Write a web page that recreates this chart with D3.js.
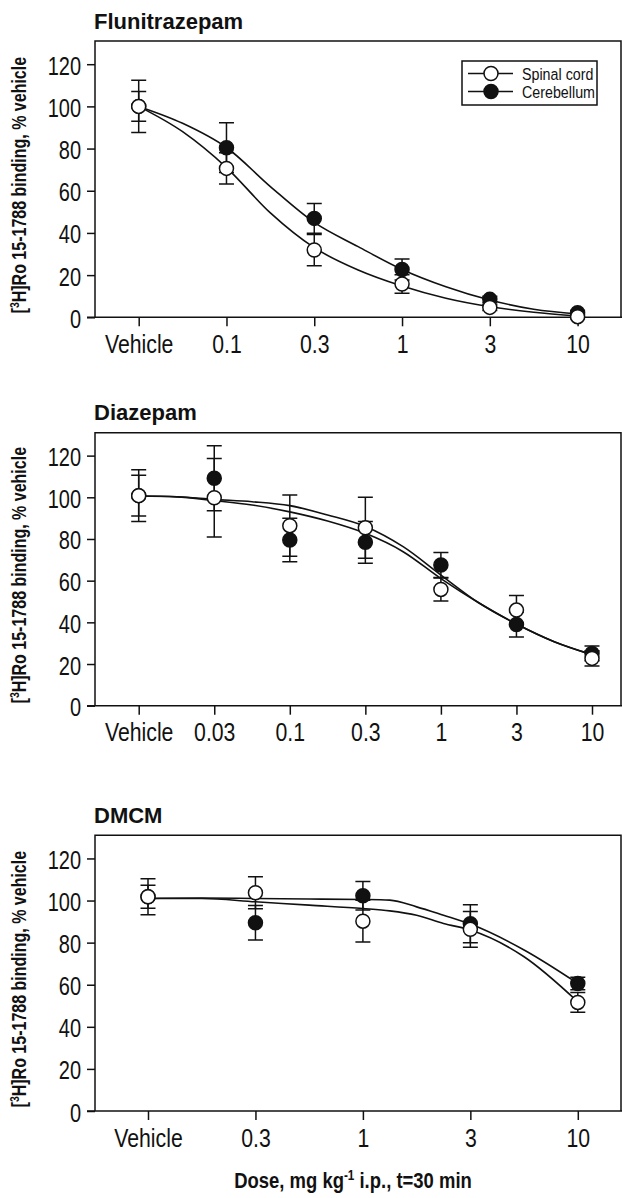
<!DOCTYPE html>
<html lang="en">
<head>
<meta charset="UTF-8">
<title>[3H]Ro 15-1788 binding</title>
<script src="https://d3js.org/d3.v7.min.js"></script>
<style>
  body { margin: 0; padding: 0; background: #fff; }
  svg { display: block; }
  .tick text { font-family: "Liberation Sans", Arial, sans-serif; font-size: 25px; fill: #111; }
  .tick line { stroke: #111; stroke-width: 1.5px; }
  .title { font-family: "Liberation Sans", Arial, sans-serif; font-weight: bold; font-size: 22px; fill: #111; }
  .ylab, .xlab { font-family: "Liberation Sans", Arial, sans-serif; font-weight: bold; fill: #111; }
  .legend text { font-family: "Liberation Sans", Arial, sans-serif; font-size: 17px; fill: #111; }
</style>
</head>
<body>
<div id="chart"></div>
<script>
// ---- data ----
const flunCats = ["Vehicle", "0.1", "0.3", "1", "3", "10"];
const flunSpinal = [100, 70.6, 31.9, 15.8, 4.7, 0.3];
const flunSpinalErr = [7, 7.4, 7.4, 4.4, 1.5, 1];
const flunCereb = [100, 80.4, 46.9, 22.7, 8.5, 2.2];
const flunCerebErr = [12.4, 11.8, 7, 5, 1.5, 1];
// fitted curves, [category index, value]
const flunSpinalFit = [[0, 100], [0.5, 88], [1, 71], [1.5, 49.5], [2, 33], [2.5, 22.4], [3, 14.8], [3.5, 9], [4, 5], [4.5, 2.4], [5, 0.6]];
const flunCerebFit = [[0, 100], [0.5, 92], [1, 80.5], [1.5, 62], [2, 45], [2.5, 33.5], [3, 22.7], [3.5, 14.5], [4, 8.2], [4.5, 3.8], [5, 1.6]];

const diazCats = ["Vehicle", "0.03", "0.1", "0.3", "1", "3", "10"];
const diazSpinal = [100.8, 99.8, 86.4, 85.4, 55.8, 45.9, 22.7];
const diazSpinalErr = [12.4, 18.8, 14.7, 14.6, 5.5, 7, 3.7];
const diazCereb = [100.8, 109.1, 79.5, 78.4, 67.5, 39, 25.1];
const diazCerebErr = [9.8, 15.6, 10.4, 10, 6, 6, 3.5];
const diazSpinalFit = [[0, 100.6], [0.5, 100.3], [1, 99], [1.5, 97.9], [2, 96], [2.5, 91.5], [3, 86], [3.5, 76.3], [4, 62.7], [4.5, 49.4], [5, 39.2], [5.5, 30.7], [6, 24.5]];
const diazCerebFit = [[0, 100.6], [0.5, 100.2], [1, 98.4], [1.5, 96.3], [2, 93], [2.5, 88.6], [3, 82.7], [3.5, 73.9], [4, 61], [4.5, 49.4], [5, 39.2], [5.5, 30.7], [6, 24.5]];

const dmcmCats = ["Vehicle", "0.3", "1", "3", "10"];
const dmcmSpinal = [101.8, 103.7, 90.2, 86.3, 51.6];
const dmcmSpinalErr = [8.5, 7.6, 9.9, 8.5, 4.7];
const dmcmCereb = [101.8, 89.4, 102.3, 89, 60.6];
const dmcmCerebErr = [5.5, 8.2, 6.8, 9, 3];
const dmcmSpinalFit = [[0, 101], [0.5, 101], [1, 99.4], [1.5, 97.8], [2, 96.2], [2.25, 95.1], [2.5, 93], [2.75, 89.1], [3, 86], [3.5, 73.3], [4, 51.9]];
const dmcmCerebFit = [[0, 101], [0.5, 101.2], [1, 101], [1.5, 100.7], [2, 100.5], [2.25, 100.2], [2.5, 97], [2.75, 93], [3, 88.8], [3.5, 76.5], [4, 60.6]];

const yTicks = [0, 20, 40, 60, 80, 100, 120];

// ---- layout ----
const W = 622, H = 1198;
const frameLeft = 95, frameRight = 621;
const narrow = 0.8; // squeeze text horizontally to mimic a condensed face
const panels = [
  { title: "Flunitrazepam", cats: flunCats, sp: flunSpinal, spE: flunSpinalErr, ce: flunCereb, ceE: flunCerebErr,
    spFit: flunSpinalFit, ceFit: flunCerebFit, top: 41, zero: 317.3, x0: 138.7, x1: 577.6, legend: true },
  { title: "Diazepam", cats: diazCats, sp: diazSpinal, spE: diazSpinalErr, ce: diazCereb, ceE: diazCerebErr,
    spFit: diazSpinalFit, ceFit: diazCerebFit, top: 432.7, zero: 705.7, x0: 138.7, x1: 592, legend: false },
  { title: "DMCM", cats: dmcmCats, sp: dmcmSpinal, spE: dmcmSpinalErr, ce: dmcmCereb, ceE: dmcmCerebErr,
    spFit: dmcmSpinalFit, ceFit: dmcmCerebFit, top: 835.3, zero: 1111, x0: 148, x1: 577.8, legend: false }
];

const ink = "#111";
const r = 7, cap = 7.5;

const svg = d3.select("#chart").append("svg")
  .attr("width", W).attr("height", H);

panels.forEach(p => {
  const g = svg.append("g");
  const x = d3.scaleLinear().domain([0, p.cats.length - 1]).range([p.x0, p.x1]);
  const y = d3.scaleLinear().domain([0, 131]).range([p.zero, p.top]);

  // frame (left, top, right)
  g.append("path")
    .attr("d", `M${frameLeft},${p.zero}V${p.top}H${frameRight}V${p.zero}`)
    .attr("fill", "none").attr("stroke", ink).attr("stroke-width", 1.5);

  // y axis
  const ya = g.append("g").attr("transform", `translate(${frameLeft},0)`)
    .call(d3.axisLeft(y).tickValues(yTicks).tickSize(8).tickPadding(6));
  ya.select(".domain").remove();
  ya.selectAll(".tick text")
    .attr("x", -14 / narrow).attr("dy", "0.4em")
    .attr("transform", `scale(${narrow},1)`);

  // x axis
  const xa = g.append("g").attr("transform", `translate(0,${p.zero})`)
    .call(d3.axisBottom(x).tickValues(d3.range(p.cats.length)).tickFormat(i => p.cats[i]).tickSize(9).tickPadding(9));
  xa.select(".domain").remove();
  xa.selectAll(".tick text").attr("transform", `scale(${narrow + 0.05},1)`);
  g.append("line")
    .attr("x1", 87).attr("x2", W).attr("y1", p.zero).attr("y2", p.zero)
    .attr("stroke", ink).attr("stroke-width", 1.5);

  // title
  g.append("text").attr("class", "title")
    .attr("x", frameLeft - 1).attr("y", p.top - 12.5).text(p.title);

  // y label
  const yl = g.append("text").attr("class", "ylab")
    .attr("transform", `translate(26,${(p.top + p.zero) / 2 + 6}) rotate(-90) scale(0.8,1)`)
    .attr("text-anchor", "middle").attr("font-size", 20);
  yl.append("tspan").text("[");
  yl.append("tspan").attr("font-size", 13).attr("dy", -7).text("3");
  yl.append("tspan").attr("dy", 7).text("H]Ro 15-1788 binding, % vehicle");

  // error bars
  const bars = [];
  p.sp.forEach((v, i) => bars.push({ i, v, e: p.spE[i] }));
  p.ce.forEach((v, i) => bars.push({ i, v, e: p.ceE[i] }));
  const eb = g.append("g").attr("stroke", ink).attr("stroke-width", 1.5).attr("fill", "none");
  eb.selectAll("path").data(bars).join("path")
    .attr("d", d => {
      const cx = x(d.i), yt = y(d.v + d.e), yb = y(d.v - d.e);
      return `M${cx},${yt}V${yb}M${cx - cap},${yt}H${cx + cap}M${cx - cap},${yb}H${cx + cap}`;
    });

  // fitted curves
  const line = d3.line().x(d => x(d[0])).y(d => y(d[1])).curve(d3.curveMonotoneX);
  [p.ceFit, p.spFit].forEach(f => {
    g.append("path").attr("d", line(f))
      .attr("fill", "none").attr("stroke", ink).attr("stroke-width", 1.6);
  });

  // markers: filled (cerebellum) under open (spinal cord)
  g.append("g").selectAll("circle").data(p.ce).join("circle")
    .attr("cx", (d, i) => x(i)).attr("cy", d => y(d)).attr("r", r)
    .attr("fill", ink).attr("stroke", ink).attr("stroke-width", 1.5);
  g.append("g").selectAll("circle").data(p.sp).join("circle")
    .attr("cx", (d, i) => x(i)).attr("cy", d => y(d)).attr("r", r)
    .attr("fill", "#fff").attr("stroke", ink).attr("stroke-width", 1.5);

  if (p.legend) {
    const lg = g.append("g").attr("class", "legend");
    lg.append("rect").attr("x", 462).attr("y", 61).attr("width", 135).attr("height", 44)
      .attr("fill", "#fff").attr("stroke", ink).attr("stroke-width", 1.5);
    const items = [{ name: "Spinal cord", fill: "#fff", yy: 73.5 }, { name: "Cerebellum", fill: ink, yy: 91.5 }];
    items.forEach(it => {
      lg.append("line").attr("x1", 468).attr("x2", 513).attr("y1", it.yy).attr("y2", it.yy)
        .attr("stroke", ink).attr("stroke-width", 1.5);
      lg.append("circle").attr("cx", 491).attr("cy", it.yy).attr("r", 7)
        .attr("fill", it.fill).attr("stroke", ink).attr("stroke-width", 1.5);
      lg.append("text").attr("transform", `translate(522,${it.yy}) scale(0.84,1)`)
        .attr("dy", "0.36em").text(it.name);
    });
  }
});

// shared x label
const xl = svg.append("text").attr("class", "xlab")
  .attr("transform", "translate(353,1188) scale(0.84,1)")
  .attr("text-anchor", "middle").attr("font-size", 22);
xl.append("tspan").text("Dose, mg kg");
xl.append("tspan").attr("font-size", 14).attr("dy", -8).text("-1");
xl.append("tspan").attr("dy", 8).text(" i.p., t=30 min");
</script>
</body>
</html>
